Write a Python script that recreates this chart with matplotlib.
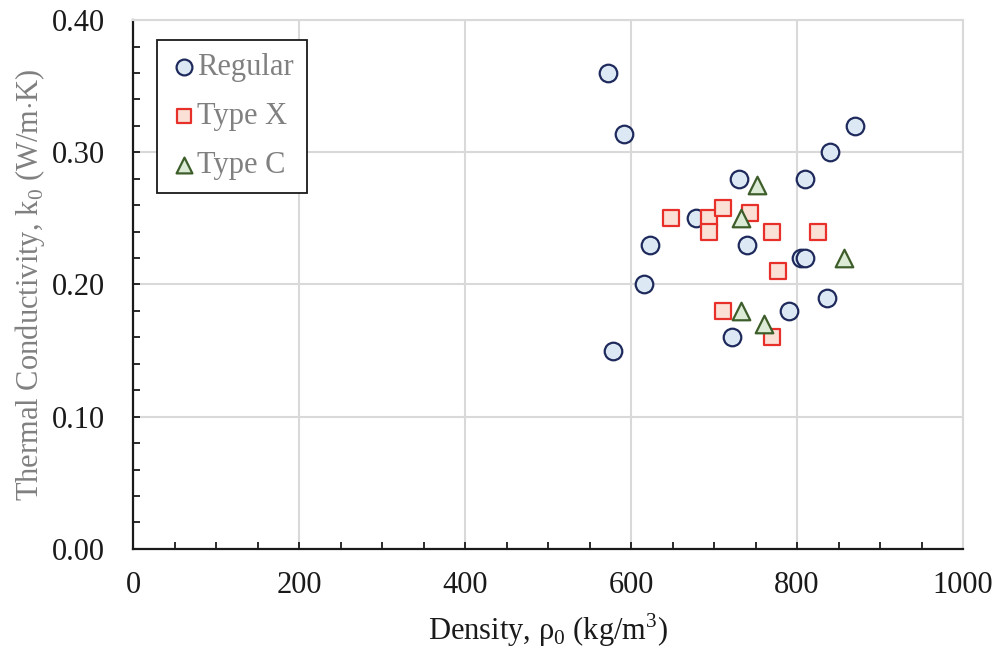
import matplotlib
matplotlib.use('Agg')
import matplotlib.pyplot as plt
from matplotlib.ticker import MultipleLocator, FormatStrFormatter

plt.rcParams['font.family'] = ['Liberation Serif', 'DejaVu Serif']
plt.rcParams['mathtext.fontset'] = 'custom'
plt.rcParams['mathtext.rm'] = 'Liberation Serif'

# Regular gypsum board
reg_density = [572, 592, 870, 840, 730, 810, 678, 623, 740, 805, 810, 616, 836, 790, 722, 578]
reg_k = [0.360, 0.314, 0.320, 0.300, 0.280, 0.280, 0.250, 0.230, 0.230, 0.220, 0.220,
         0.200, 0.190, 0.180, 0.160, 0.150]

# Type X
x_density = [648, 694, 694, 711, 743, 770, 825, 777, 711, 770]
x_k = [0.250, 0.250, 0.240, 0.258, 0.254, 0.240, 0.240, 0.210, 0.180, 0.160]

# Type C
c_density = [752, 732, 857, 732, 760]
c_k = [0.275, 0.250, 0.220, 0.180, 0.170]

fig = plt.figure(figsize=(10, 6.51), dpi=100)
ax = fig.add_axes([0.133, 0.157, 0.830, 0.812])

ax.scatter(reg_density, reg_k, marker='o', s=160, facecolor='#dce9f5',
           edgecolor='#1f2a5c', linewidth=1.6, label='Regular', zorder=3)
ax.scatter(x_density, x_k, marker='s', s=120, facecolor='#fbe0d6',
           edgecolor='#e8302a', linewidth=1.6, label='Type X', zorder=3)
ax.scatter(c_density, c_k, marker='^', s=160, facecolor='#dcebd5',
           edgecolor='#3d5e2a', linewidth=1.6, label='Type C', zorder=3)

ax.set_xlim(0, 1000)
ax.set_ylim(0, 0.40)
ax.xaxis.set_major_locator(MultipleLocator(200))
ax.xaxis.set_minor_locator(MultipleLocator(50))
ax.yaxis.set_major_locator(MultipleLocator(0.10))
ax.yaxis.set_minor_locator(MultipleLocator(0.02))
ax.yaxis.set_major_formatter(FormatStrFormatter('%.2f'))

ax.grid(True, which='major', color='#d9d9d9', linewidth=1.5, zorder=0)
ax.set_axisbelow(True)

ax.tick_params(which='both', direction='in', labelsize=22, colors='#1a1a1a',
               width=1.3, top=False, right=False)
ax.tick_params(which='major', length=5)
ax.tick_params(which='minor', length=5)
ax.tick_params(axis='y', which='major', pad=20)
ax.tick_params(axis='x', which='major', pad=16)

for side in ['left', 'bottom']:
    ax.spines[side].set_color('#1a1a1a')
    ax.spines[side].set_linewidth(1.6)
for side in ['top', 'right']:
    ax.spines[side].set_color('#d9d9d9')
    ax.spines[side].set_linewidth(1.5)

ax.set_xlabel(r'Density, $\mathrm{\rho_0}$ (kg/m$^3$)', fontsize=22, color='#1a1a1a', labelpad=8)
ax.set_ylabel(r'Thermal Conductivity, k$_0$ (W/m$\cdot$K)', fontsize=22, color='#808080', labelpad=4)

leg = ax.legend(loc='upper left', bbox_to_anchor=(0.029, 0.962), fontsize=22,
                frameon=True, fancybox=False, edgecolor='#1a1a1a', framealpha=1,
                handletextpad=0.0, borderpad=0.42, labelspacing=0.66, handlelength=0.9,
                borderaxespad=0, labelcolor='#808080', scatterpoints=1, markerscale=0.9)
leg.get_frame().set_linewidth(1.3)

fig.savefig('out.png', dpi=100, facecolor='white')
